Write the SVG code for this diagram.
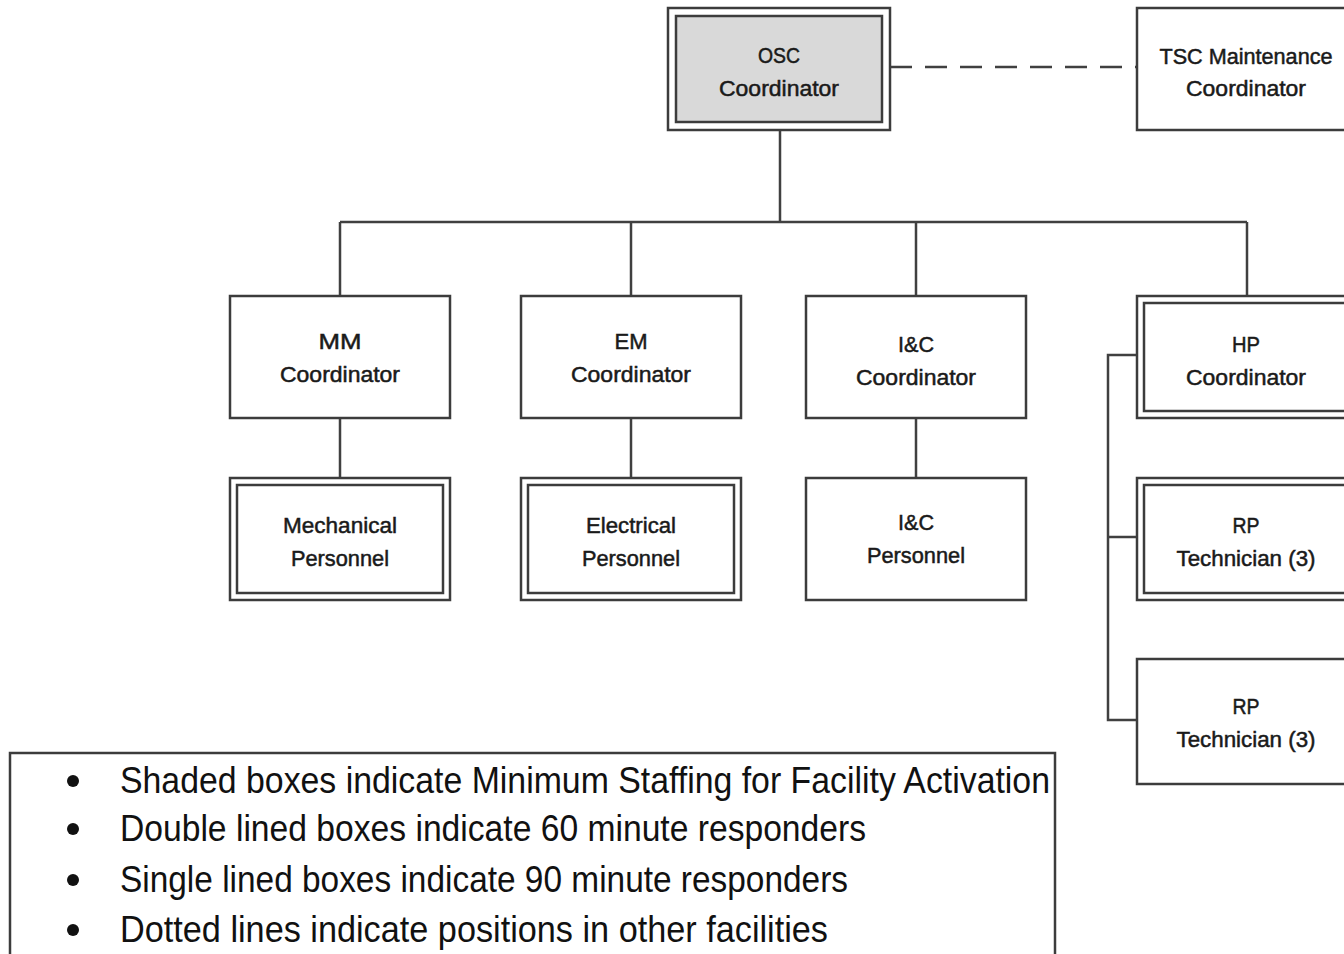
<svg xmlns="http://www.w3.org/2000/svg" width="1344" height="954" viewBox="0 0 1344 954">
<style>
.box{fill:#fff;stroke:#3c3c3c;stroke-width:2.5}
.inner{fill:none;stroke:#3c3c3c;stroke-width:2.5}
.shade{fill:#d9d9d9}
.ln{fill:none;stroke:#404040;stroke-width:2.5}
.t{font-family:"Liberation Sans",Arial,sans-serif;font-size:22px;fill:#1a1a1a;stroke:#1a1a1a;stroke-width:0.5;text-anchor:middle}
.lg{font-family:"Liberation Sans",Arial,sans-serif;font-size:36px;fill:#111}
</style>
<g id="connectors">
<line class="ln" x1="890" y1="67" x2="1137" y2="67" stroke-dasharray="22,13"/>
<path class="ln" d="M780 130V222M340 222H1247M340 222V296M631 222V296M916 222V296M1247 222V296"/>
<path class="ln" d="M340 418V478M631 418V478M916 418V478"/>
<path class="ln" d="M1137 355H1108V720H1137M1108 537H1137"/>
</g>
<g id="osc">
<rect class="box" x="668" y="8" width="222" height="122"/>
<rect class="inner shade" x="676" y="16" width="206" height="106"/>
<text class="t" x="779" y="63" textLength="42" lengthAdjust="spacingAndGlyphs">OSC</text>
<text class="t" x="779" y="96" textLength="120" lengthAdjust="spacingAndGlyphs">Coordinator</text>
</g>
<g id="tsc">
<rect class="box" x="1137" y="8" width="220" height="122"/>
<text class="t" x="1246" y="64" textLength="173" lengthAdjust="spacingAndGlyphs">TSC Maintenance</text>
<text class="t" x="1246" y="96" textLength="120" lengthAdjust="spacingAndGlyphs">Coordinator</text>
</g>
<g id="mm">
<rect class="box" x="230" y="296" width="220" height="122"/>
<text class="t" x="340" y="349" textLength="43" lengthAdjust="spacingAndGlyphs">MM</text>
<text class="t" x="340" y="382" textLength="120" lengthAdjust="spacingAndGlyphs">Coordinator</text>
</g>
<g id="em">
<rect class="box" x="521" y="296" width="220" height="122"/>
<text class="t" x="631" y="349" textLength="33" lengthAdjust="spacingAndGlyphs">EM</text>
<text class="t" x="631" y="382" textLength="120" lengthAdjust="spacingAndGlyphs">Coordinator</text>
</g>
<g id="ic">
<rect class="box" x="806" y="296" width="220" height="122"/>
<text class="t" x="916" y="352" textLength="36" lengthAdjust="spacingAndGlyphs">I&amp;C</text>
<text class="t" x="916" y="385" textLength="120" lengthAdjust="spacingAndGlyphs">Coordinator</text>
</g>
<g id="hp">
<rect class="box" x="1137" y="296" width="220" height="122"/>
<rect class="inner" x="1144" y="303" width="220" height="108"/>
<text class="t" x="1246" y="352" textLength="28" lengthAdjust="spacingAndGlyphs">HP</text>
<text class="t" x="1246" y="385" textLength="120" lengthAdjust="spacingAndGlyphs">Coordinator</text>
</g>
<g id="mech">
<rect class="box" x="230" y="478" width="220" height="122"/>
<rect class="inner" x="237" y="485" width="206" height="108"/>
<text class="t" x="340" y="533" textLength="114" lengthAdjust="spacingAndGlyphs">Mechanical</text>
<text class="t" x="340" y="566" textLength="98" lengthAdjust="spacingAndGlyphs">Personnel</text>
</g>
<g id="elec">
<rect class="box" x="521" y="478" width="220" height="122"/>
<rect class="inner" x="528" y="485" width="206" height="108"/>
<text class="t" x="631" y="533" textLength="90" lengthAdjust="spacingAndGlyphs">Electrical</text>
<text class="t" x="631" y="566" textLength="98" lengthAdjust="spacingAndGlyphs">Personnel</text>
</g>
<g id="icp">
<rect class="box" x="806" y="478" width="220" height="122"/>
<text class="t" x="916" y="530" textLength="36" lengthAdjust="spacingAndGlyphs">I&amp;C</text>
<text class="t" x="916" y="563" textLength="98" lengthAdjust="spacingAndGlyphs">Personnel</text>
</g>
<g id="rp1">
<rect class="box" x="1137" y="478" width="220" height="122"/>
<rect class="inner" x="1144" y="485" width="220" height="108"/>
<text class="t" x="1246" y="533" textLength="27" lengthAdjust="spacingAndGlyphs">RP</text>
<text class="t" x="1246" y="566" textLength="139" lengthAdjust="spacingAndGlyphs">Technician (3)</text>
</g>
<g id="rp2">
<rect class="box" x="1137" y="659" width="220" height="125"/>
<text class="t" x="1246" y="714" textLength="27" lengthAdjust="spacingAndGlyphs">RP</text>
<text class="t" x="1246" y="747" textLength="139" lengthAdjust="spacingAndGlyphs">Technician (3)</text>
</g>
<g id="legend">
<rect class="box" x="10" y="753" width="1045" height="215"/>
<circle cx="73" cy="781" r="6" fill="#111"/>
<circle cx="73" cy="829" r="6" fill="#111"/>
<circle cx="73" cy="880" r="6" fill="#111"/>
<circle cx="73" cy="930" r="6" fill="#111"/>
<text class="lg" x="120" y="793" textLength="930" lengthAdjust="spacingAndGlyphs">Shaded boxes indicate Minimum Staffing for Facility Activation</text>
<text class="lg" x="120" y="841" textLength="746" lengthAdjust="spacingAndGlyphs">Double lined boxes indicate 60 minute responders</text>
<text class="lg" x="120" y="892" textLength="728" lengthAdjust="spacingAndGlyphs">Single lined boxes indicate 90 minute responders</text>
<text class="lg" x="120" y="942" textLength="708" lengthAdjust="spacingAndGlyphs">Dotted lines indicate positions in other facilities</text>
</g>
</svg>
